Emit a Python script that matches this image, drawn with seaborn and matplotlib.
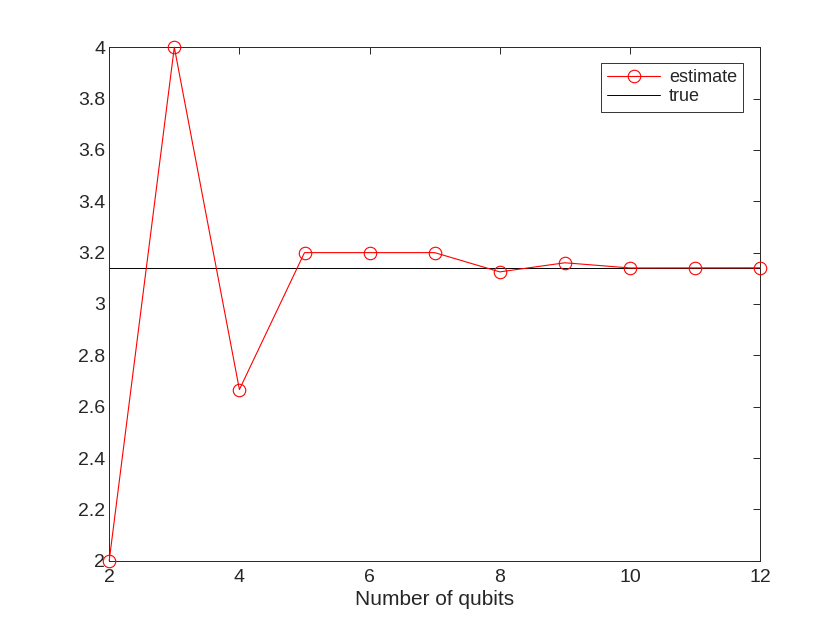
import matplotlib
matplotlib.use("Agg")
import matplotlib.pyplot as plt
import seaborn as sns
import numpy as np
import pandas as pd

# estimated pi vs number of qubits
qubits = [2, 3, 4, 5, 6, 7, 8, 9, 10, 11, 12]
estimate = [2.0, 4.0, 2.6667, 3.2, 3.2, 3.2, 3.1250, 3.1605, 3.1403, 3.1406, 3.1409]
true_value = np.pi

sns.set_style("white")
plt.rcParams['font.family'] = ['Liberation Sans', 'DejaVu Sans']

df = pd.DataFrame({"qubits": qubits, "estimate": estimate})

fig = plt.figure(figsize=(8.4, 6.3), dpi=100)
ax = fig.add_axes([0.13, 0.11, 0.775, 0.815])

sns.lineplot(data=df, x="qubits", y="estimate", ax=ax, color="red", lw=0.8,
             marker="o", markersize=9, markerfacecolor="none",
             markeredgecolor="red", markeredgewidth=0.8, label="estimate",
             clip_on=False, zorder=3)
ax.axhline(true_value, color="black", lw=0.7, label="true")

ax.set_xlim(2, 12)
ax.set_ylim(2, 4)
ax.set_xticks(np.arange(2, 13, 2))
ax.set_yticks(np.arange(2, 4.01, 0.2))
ax.set_yticklabels([f"{v:g}" for v in np.round(np.arange(2, 4.01, 0.2), 1)])
ax.set_xlabel("Number of qubits", fontsize=15, color="#262626", labelpad=3)
ax.set_ylabel("")

ax.tick_params(direction="in", length=5, width=0.7, top=True, right=True,
               labelsize=14, colors="#262626")
ax.tick_params(axis="x", pad=6)
ax.tick_params(axis="y", pad=3)
for s in ax.spines.values():
    s.set_linewidth(0.7)
    s.set_color("#262626")

leg = ax.legend(loc="upper right", fontsize=13, frameon=True, fancybox=False,
                edgecolor="black", borderpad=0.35, handlelength=2.9,
                handletextpad=0.5, labelspacing=0.1, borderaxespad=0,
                bbox_to_anchor=(0.974, 0.969))
leg.get_frame().set_linewidth(0.7)

fig.savefig("out.png", dpi=100)
